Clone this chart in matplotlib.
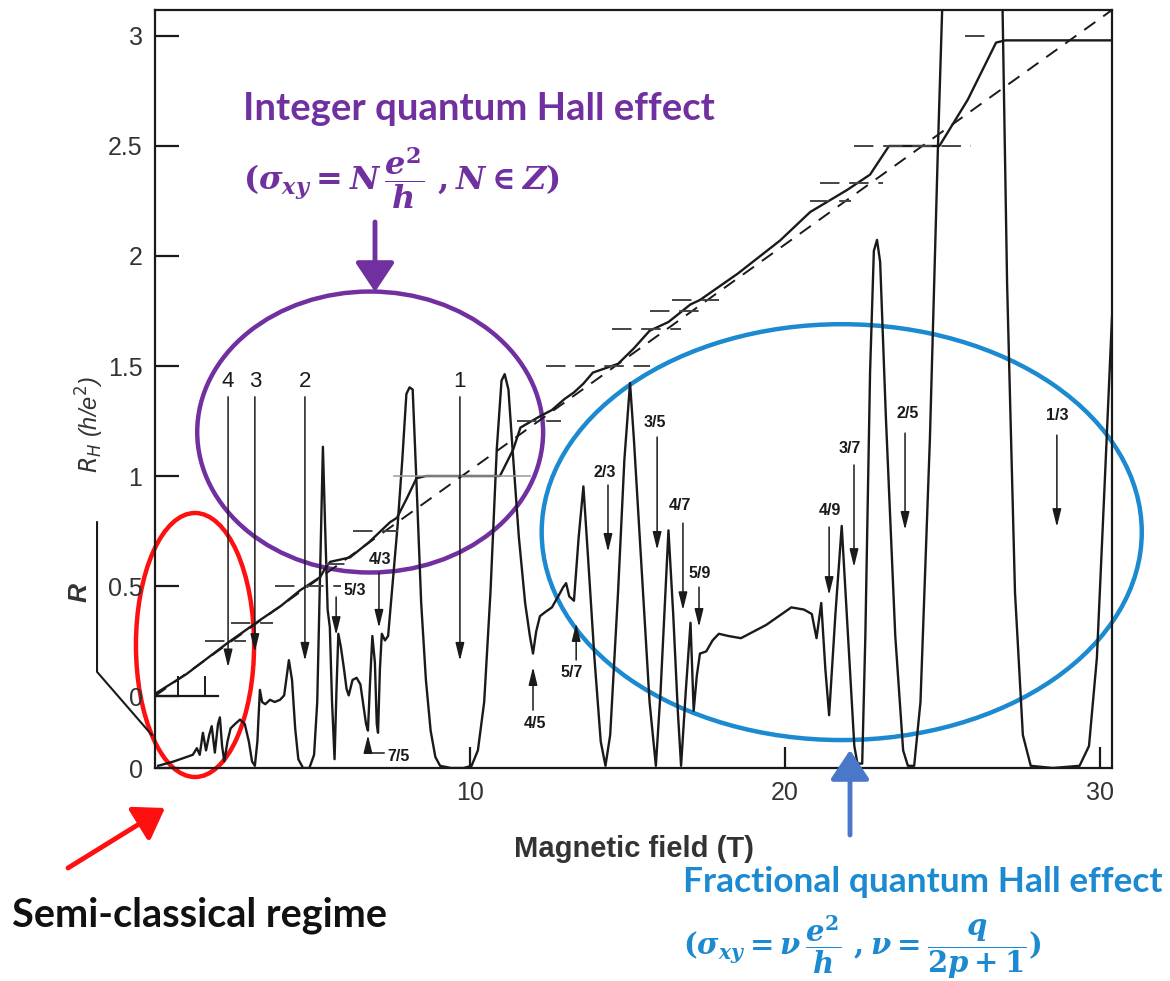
import matplotlib
matplotlib.use('Agg')
import matplotlib.pyplot as plt
from matplotlib.patches import Ellipse

W, H = 1170, 981

# Hall resistance R_H in units of h/e^2 against magnetic field (T)
hall_B = [0.0, 1.0, 2.29, 3.33, 4.0, 4.6, 5.24, 5.4, 5.56, 6.19, 6.8, 7.46, 7.68,
          8.0, 8.3, 8.6, 10.95, 11.37, 11.6, 12.2, 12.6, 13.0, 13.3, 13.6, 13.9,
          14.7, 15.2, 15.7, 16.3, 17.0, 17.3, 18.5, 19.84, 20.8, 21.97, 22.7,
          23.3, 24.9, 25.8, 26.7, 27.0, 30.4]
hall_R = [0.01, 0.10, 0.24, 0.345, 0.41, 0.48, 0.54, 0.58, 0.61, 0.63, 0.70, 0.79, 0.81,
          0.90, 0.99, 1.0, 1.0, 1.12, 1.22, 1.27, 1.30, 1.35, 1.38, 1.42, 1.47,
          1.51, 1.58, 1.66, 1.70, 1.78, 1.80, 1.92, 2.07, 2.20, 2.30, 2.37,
          2.50, 2.50, 2.71, 2.97, 2.98, 2.98]

# classical Hall line (dashed)
classical_B = [0.0, 30.4]
classical_R = [0.0, 3.12]

# longitudinal resistance R, height above its own zero line
R_ZERO = -0.327
rxx_B = [0.10, 0.60, 1.00, 1.20, 1.33, 1.42, 1.52, 1.62, 1.72, 1.80, 1.90, 2.00, 2.06,
         2.13, 2.20, 2.30, 2.40, 2.54, 2.70, 2.85, 2.98, 3.08, 3.17, 3.25, 3.33,
         3.40, 3.50, 3.65, 3.80, 3.97, 4.10, 4.25, 4.35, 4.45, 4.55, 4.70, 4.90,
         5.05, 5.15, 5.25, 5.33, 5.40, 5.48, 5.55, 5.62, 5.70, 5.76, 5.82, 5.90,
         6.00, 6.08, 6.15, 6.27, 6.40, 6.52, 6.62, 6.70, 6.76, 6.83, 6.90, 6.98,
         7.04, 7.08, 7.14, 7.20, 7.30, 7.40, 7.52, 7.70, 7.85, 7.98, 8.08, 8.18,
         8.30, 8.45, 8.60, 8.75, 8.90, 9.05, 9.40, 9.80, 10.05, 10.25, 10.45,
         10.65, 10.85, 11.00, 11.10, 11.22, 11.35, 11.55, 11.75, 11.90, 12.00,
         12.10, 12.22, 12.40, 12.60, 12.80, 12.95, 13.05, 13.15, 13.30, 13.45,
         13.60, 13.75, 13.95, 14.15, 14.30, 14.45, 14.70, 14.90, 15.08, 15.20,
         15.45, 15.70, 15.90, 16.05, 16.30, 16.45, 16.60, 16.70, 16.85, 17.00,
         17.10, 17.20, 17.30, 17.50, 17.70, 17.90, 18.20, 18.60, 19.00, 19.40,
         19.80, 20.20, 20.60, 20.85, 21.00, 21.15, 21.28, 21.40, 21.60, 21.80,
         22.00, 22.20, 22.30, 22.45, 22.55, 22.70, 22.82, 22.92, 23.02, 23.20,
         23.50, 23.75, 23.90, 24.10, 24.30, 24.60, 24.85, 25.00, 26.90, 27.05,
         27.30, 27.55, 27.80, 28.50, 29.35, 29.65, 29.90, 30.15, 30.38]
rxx_R = [0.01, 0.03, 0.05, 0.06, 0.09, 0.06, 0.16, 0.08, 0.15, 0.19, 0.07, 0.20, 0.23,
         0.10, 0.03, 0.12, 0.18, 0.20, 0.22, 0.20, 0.12, 0.03, 0.01, 0.12, 0.355,
         0.30, 0.29, 0.31, 0.30, 0.31, 0.33, 0.49, 0.40, 0.18, 0.04, 0.0, 0.0,
         0.06, 0.30, 0.95, 1.46, 1.10, 0.72, 0.64, 0.30, 0.04, 0.35, 0.61, 0.55,
         0.45, 0.36, 0.33, 0.40, 0.41, 0.38, 0.28, 0.20, 0.17, 0.40, 0.60, 0.48,
         0.20, 0.16, 0.45, 0.61, 0.58, 0.60, 0.80, 1.10, 1.40, 1.70, 1.73, 1.72,
         1.30, 0.75, 0.40, 0.17, 0.05, 0.01, 0.0, 0.0, 0.01, 0.08, 0.30,
         0.80, 1.45, 1.76, 1.79, 1.72, 1.45, 1.05, 0.75, 0.60, 0.52,
         0.62, 0.69, 0.71, 0.73, 0.78, 0.82, 0.84, 0.78, 0.76, 1.05,
         1.28, 0.95, 0.50, 0.12, 0.01, 0.15, 0.80, 1.40, 1.75, 1.50,
         0.90, 0.30, 0.01, 0.35, 1.08, 0.70, 0.25, 0.01, 0.35, 0.66,
         0.26, 0.42, 0.52, 0.53, 0.58, 0.61, 0.60, 0.59, 0.62, 0.65,
         0.69, 0.73, 0.72, 0.70, 0.59, 0.75, 0.45, 0.24, 0.70, 1.10,
         0.60, 0.10, 0.02, 0.02, 0.60, 1.80, 2.35, 2.40, 2.30, 1.60,
         0.60, 0.08, 0.01, 0.01, 0.30, 1.50, 2.80, 3.50, 3.50, 2.20,
         0.80, 0.15, 0.01, 0.0, 0.01, 0.10, 0.50, 1.30, 2.05]

# short dashed marks at the quantized Hall values
plateau_level = [0.25, 1 / 3, 0.5, 0.6, 0.75, 1.25, 1.5, 5 / 3, 1.75, 1.8, 2.25, 7 / 3, 2.5, 3.0]
plateau_start = [1.6, 2.4, 3.8, 5.4, 6.3, 11.5, 12.4, 14.5, 15.7, 16.4, 20.8, 21.1, 22.2, 25.7]
plateau_end = [2.9, 3.75, 5.9, 6.3, 7.7, 12.9, 15.7, 16.7, 17.5, 17.9, 22.1, 23.1, 25.9, 26.6]
# thin line at the nu = 1 plateau
nu1_start, nu1_end = 7.6, 11.9

# integer filling factors (long arrows)
int_labels = ['4', '3', '2', '1']
int_B = [2.32, 3.17, 4.76, 9.68]
int_top = [1.36, 1.36, 1.36, 1.36]
int_tip = [0.13, 0.20, 0.16, 0.16]

# fractional filling factors pointing down
frac_labels = ['5/3', '4/3', '2/3', '3/5', '4/7', '5/9', '4/9', '3/7', '2/5', '1/3']
frac_B = [5.75, 7.11, 14.38, 15.94, 16.76, 17.27, 21.40, 22.19, 23.81, 28.63]
frac_label_B = [6.35, 7.14, 14.29, 15.87, 16.67, 17.30, 21.43, 22.06, 23.90, 28.63]
frac_label_y = [0.48, 0.62, 1.018, 1.241, 0.868, 0.559, 0.845, 1.127, 1.286, 1.277]
frac_top = [0.45, 0.56, 0.959, 1.177, 0.786, 0.495, 0.768, 1.05, 1.195, 1.186]
frac_tip = [0.277, 0.31, 0.655, 0.664, 0.39, 0.314, 0.459, 0.586, 0.755, 0.768]

# fractional filling factors pointing up
up_labels = ['7/5', '4/5', '5/7']
up_B = [6.76, 12.0, 13.37]
up_tail = [-0.26, -0.064, 0.164]
up_tip = [-0.177, 0.132, 0.332]
up_label_B = [7.72, 12.05, 13.24]
up_label_y = [-0.277, -0.123, 0.105]

PURPLE = '#7030A0'
RED = '#FF1010'
BLUE = '#1C8AD0'
BLUE_ARROW = '#4A78C8'
INK = '#1a1a1a'

plt.rcParams['mathtext.fontset'] = 'custom'
plt.rcParams['mathtext.rm'] = 'DejaVu Serif:bold'
plt.rcParams['mathtext.it'] = 'DejaVu Serif:italic:bold'
plt.rcParams['mathtext.bf'] = 'DejaVu Serif:bold'

fig = plt.figure(figsize=(W / 100, H / 100), dpi=100)
ax = fig.add_axes([155 / W, 1 - 768 / H, (1112 - 155) / W, (768 - 10) / H])
ax.set_xlim(0, 30.38)
ax.set_ylim(R_ZERO, 3.118)

for s in ax.spines.values():
    s.set_linewidth(1.6)
    s.set_color(INK)

ax.set_xticks([10, 20, 30])
ax.set_xticklabels(['10', '20', '30'])
ax.set_yticks([R_ZERO, 0, 0.5, 1, 1.5, 2, 2.5, 3])
ax.set_yticklabels(['0', '0', '0.5', '1', '1.5', '2', '2.5', '3'])
ax.tick_params(axis='both', direction='in', width=1.6, colors=INK,
               labelsize=18, labelcolor='#333333')
ax.tick_params(axis='y', length=17, pad=9)
ax.tick_params(axis='x', length=15, pad=9)
for lab in ax.get_xticklabels() + ax.get_yticklabels():
    lab.set_fontfamily('Liberation Sans')

# curves
ax.plot(classical_B, classical_R, color=INK, lw=1.4, dashes=(7, 5))
ax.plot(hall_B, hall_R, color=INK, lw=1.7)
ax.plot(rxx_B, [R_ZERO + r for r in rxx_R], color=INK, lw=1.7)

for lev, b0, b1 in zip(plateau_level, plateau_start, plateau_end):
    ax.plot([b0, b1], [lev, lev], color='#444444', lw=1.4, dashes=(10, 5))
ax.plot([nu1_start, nu1_end], [1.0, 1.0], color='#999999', lw=1.1)

# small inset baseline of R_H
ax.plot([0, 2.0], [0, 0], color=INK, lw=1.6)
ax.vlines([0.73, 1.6], 0, 0.09, color=INK, lw=1.4)

# left bracket of the R scale
ax.plot([-1.84, -1.84, -0.1], [0.79, 0.11, -0.177], color=INK, lw=1.5, clip_on=False)

arrow_kw = dict(arrowstyle='-|>,head_length=0.9,head_width=0.22', color=INK, lw=1.1,
                shrinkA=0, shrinkB=0, mutation_scale=12)
for lab, b, y0, y1 in zip(int_labels, int_B, int_top, int_tip):
    ax.annotate('', xy=(b, y1), xytext=(b, y0), arrowprops=arrow_kw)
    ax.text(b, y0 + 0.07, lab, ha='center', va='center', fontsize=16,
            family='Liberation Sans', color=INK)

for lab, b, lb, ly, y0, y1 in zip(frac_labels, frac_B, frac_label_B, frac_label_y,
                                  frac_top, frac_tip):
    ax.annotate('', xy=(b, y1), xytext=(b, y0), arrowprops=arrow_kw)
    ax.text(lb, ly, lab, ha='center', va='center', fontsize=11.5, fontweight='bold',
            family='Liberation Sans', color=INK)

for lab, b, y0, y1, lb, ly in zip(up_labels, up_B, up_tail, up_tip, up_label_B, up_label_y):
    ax.annotate('', xy=(b, y1), xytext=(b, y0), arrowprops=arrow_kw)
    ax.text(lb, ly, lab, ha='center', va='center', fontsize=11.5, fontweight='bold',
            family='Liberation Sans', color=INK)
ax.plot([up_B[0], up_B[0] + 0.5], [up_tail[0], up_tail[0]], color=INK, lw=1.1)

# axis labels
ax.set_xlabel('Magnetic field (T)', fontsize=21, fontweight='bold', family='Liberation Sans',
              color='#333333', labelpad=22)
fig.text(90 / W, 1 - 425 / H, r'$R_H$ (h/e$^2$)', rotation=90, ha='center', va='center',
         fontsize=17, style='italic', family='Liberation Sans', math_fontfamily='dejavusans',
         color='#333333')
fig.text(80 / W, 1 - 592 / H, 'R', rotation=90, ha='center', va='center', fontsize=19,
         style='italic', fontweight='bold', family='Liberation Sans', color='#333333')

# highlighted regions
ax.add_patch(Ellipse((6.83, 1.2), 10.98, 1.277, fill=False, ec=PURPLE, lw=3.2, clip_on=False))
ax.add_patch(Ellipse((1.27, 0.232), 3.75, 1.2, fill=False, ec=RED, lw=3.2, clip_on=False))
ax.add_patch(Ellipse((21.8, 0.745), 19.05, 1.89, fill=False, ec=BLUE, lw=3.2, clip_on=False))

big_arrow = dict(arrowstyle='-|>,head_length=0.45,head_width=0.3', lw=3.5,
                 shrinkA=0, shrinkB=0, mutation_scale=40)
ax.annotate('', xy=(375, H - 292), xytext=(375, H - 222), xycoords='figure pixels',
            arrowprops=dict(big_arrow, color=PURPLE))
ax.annotate('', xy=(165, H - 808), xytext=(68, H - 868), xycoords='figure pixels',
            arrowprops=dict(big_arrow, color=RED))
ax.annotate('', xy=(850, H - 750), xytext=(850, H - 835), xycoords='figure pixels',
            arrowprops=dict(big_arrow, color=BLUE_ARROW))

fig.text(243 / W, 1 - 120 / H, 'Integer quantum Hall effect', ha='left', va='baseline',
         fontsize=27.5, fontweight='bold', family='Lato', color=PURPLE)
fig.text(243 / W, 1 - 178 / H, r'$(\sigma_{xy} = N\,\dfrac{e^2}{h}\ , N \in Z)$', ha='left',
         va='center', fontsize=23, color=PURPLE)
fig.text(683 / W, 1 - 892 / H, 'Fractional quantum Hall effect', ha='left', va='baseline',
         fontsize=25.4, fontweight='bold', family='Lato', color=BLUE)
fig.text(683 / W, 1 - 947 / H, r'$(\sigma_{xy} = \nu\,\dfrac{e^2}{h}\ , \nu = \dfrac{q}{2p+1})$',
         ha='left', va='center', fontsize=21, color=BLUE)
fig.text(12 / W, 1 - 926 / H, 'Semi-classical regime', ha='left', va='baseline',
         fontsize=28.5, fontweight='bold', family='Lato', color='#111111')

fig.savefig('out.png', dpi=100)
